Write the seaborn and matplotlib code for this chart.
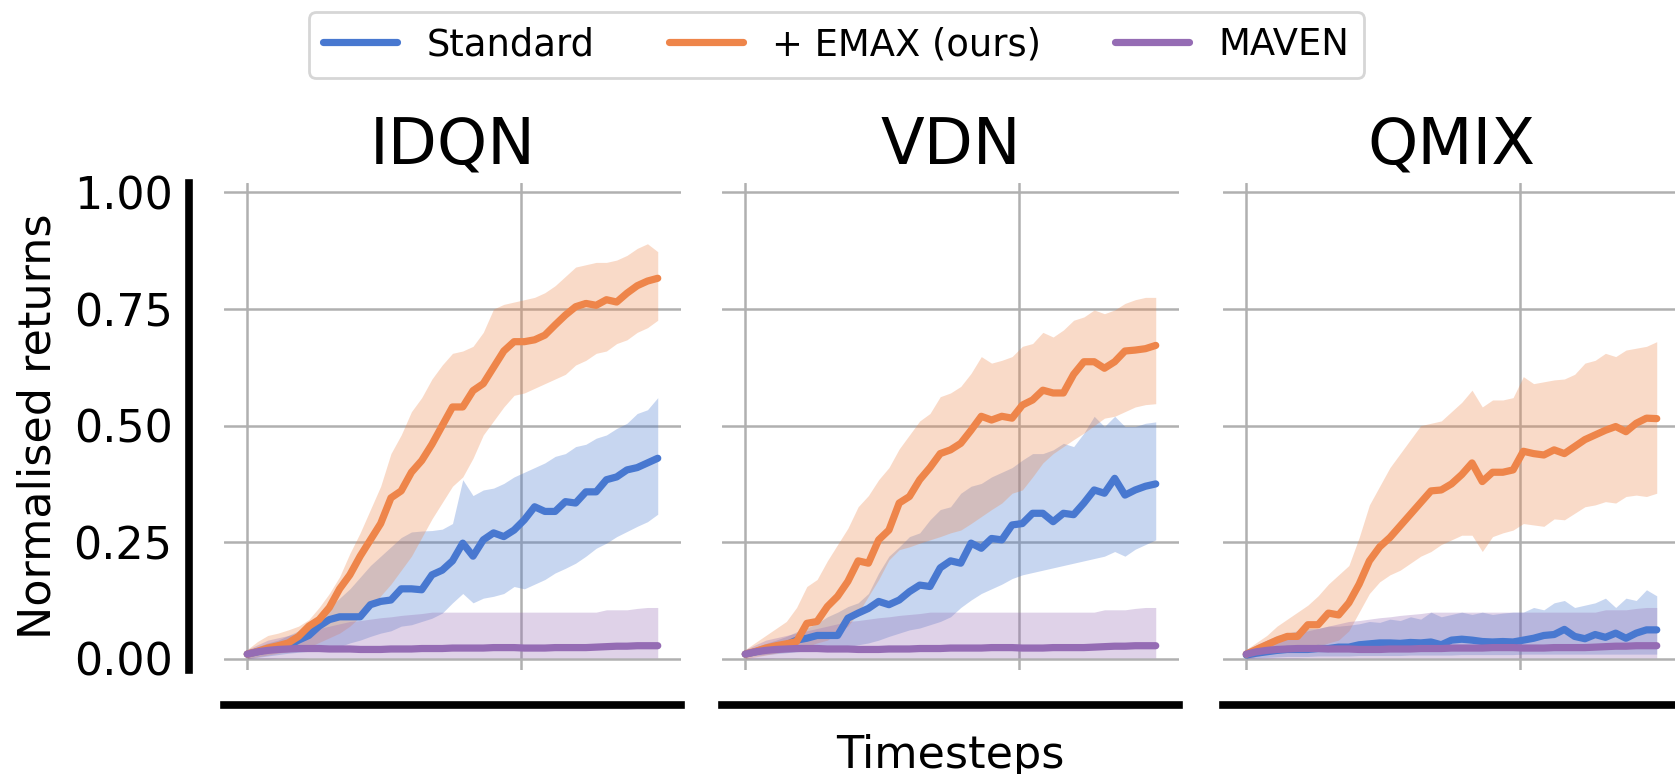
import numpy as np
import pandas as pd
import matplotlib
matplotlib.use("Agg")
import matplotlib.pyplot as plt
from matplotlib.lines import Line2D
import seaborn as sns

sns.set_theme(style="whitegrid", palette="muted")
plt.rcParams['font.family'] = ['DejaVu Sans']
plt.rcParams.update({"text.color": "black", "axes.labelcolor": "black",
                     "xtick.color": "black", "ytick.color": "black"})

panels = ["IDQN", "VDN", "QMIX"]
methods = ["Standard", "+ EMAX (ours)", "MAVEN"]
timesteps = np.arange(41) * 75000

# ---- IDQN ----
idqn_std_mean = [0.01, 0.015, 0.02, 0.025, 0.028, 0.04, 0.05, 0.07, 0.084, 0.09, 0.09, 0.09, 0.116, 0.123, 0.126, 0.15,
                 0.15, 0.148, 0.18, 0.19, 0.21, 0.248, 0.22, 0.255, 0.27, 0.262, 0.276, 0.298, 0.326, 0.316, 0.316,
                 0.337, 0.334, 0.358, 0.358, 0.384, 0.39, 0.405, 0.41, 0.42, 0.43]
idqn_std_lo = [0.0, 0.003, 0.006, 0.009, 0.012, 0.014, 0.016, 0.02, 0.023, 0.026, 0.034, 0.04, 0.048, 0.055, 0.06, 0.07,
               0.073, 0.08, 0.087, 0.098, 0.12, 0.14, 0.12, 0.13, 0.134, 0.14, 0.155, 0.15, 0.16, 0.17, 0.184, 0.194,
               0.205, 0.22, 0.237, 0.248, 0.262, 0.273, 0.284, 0.294, 0.31]
idqn_std_hi = [0.016, 0.026, 0.034, 0.04, 0.05, 0.06, 0.075, 0.09, 0.11, 0.13, 0.15, 0.175, 0.2, 0.22, 0.24, 0.26,
               0.272, 0.274, 0.275, 0.278, 0.29, 0.384, 0.35, 0.362, 0.366, 0.376, 0.39, 0.4, 0.41, 0.42, 0.434, 0.44,
               0.455, 0.46, 0.473, 0.48, 0.494, 0.505, 0.526, 0.534, 0.56]
idqn_emax_mean = [0.01, 0.016, 0.023, 0.028, 0.034, 0.048, 0.07, 0.084, 0.11, 0.15, 0.18, 0.22, 0.255, 0.29, 0.345, 0.36,
                  0.4, 0.425, 0.46, 0.5, 0.54, 0.54, 0.575, 0.59, 0.625, 0.66, 0.68, 0.68, 0.684, 0.694, 0.716, 0.737,
                  0.755, 0.762, 0.758, 0.77, 0.765, 0.784, 0.8, 0.81, 0.816]
idqn_emax_lo = [0.0, 0.004, 0.008, 0.012, 0.015, 0.02, 0.025, 0.035, 0.045, 0.055, 0.07, 0.09, 0.11, 0.135, 0.16, 0.19,
                0.22, 0.26, 0.3, 0.335, 0.37, 0.39, 0.43, 0.48, 0.51, 0.54, 0.565, 0.57, 0.58, 0.59, 0.6, 0.61, 0.63,
                0.64, 0.655, 0.66, 0.676, 0.684, 0.7, 0.71, 0.726]
idqn_emax_hi = [0.02, 0.037, 0.05, 0.055, 0.062, 0.07, 0.084, 0.11, 0.14, 0.176, 0.226, 0.27, 0.32, 0.37, 0.44, 0.48,
                0.53, 0.56, 0.6, 0.63, 0.655, 0.66, 0.67, 0.7, 0.75, 0.76, 0.765, 0.77, 0.775, 0.785, 0.8, 0.82, 0.84,
                0.845, 0.85, 0.85, 0.855, 0.865, 0.88, 0.89, 0.873]

# ---- VDN ----
vdn_std_mean = [0.01, 0.015, 0.02, 0.025, 0.03, 0.04, 0.044, 0.05, 0.05, 0.05, 0.087, 0.098, 0.108, 0.123, 0.116, 0.126,
                0.144, 0.158, 0.155, 0.195, 0.21, 0.205, 0.248, 0.237, 0.258, 0.255, 0.287, 0.29, 0.312, 0.312, 0.294,
                0.312, 0.309, 0.334, 0.362, 0.355, 0.387, 0.351, 0.362, 0.37, 0.375]
vdn_std_lo = [0.005, 0.007, 0.009, 0.011, 0.013, 0.015, 0.017, 0.019, 0.021, 0.023, 0.026, 0.03, 0.034, 0.04, 0.048,
              0.055, 0.062, 0.066, 0.073, 0.08, 0.09, 0.11, 0.126, 0.14, 0.15, 0.16, 0.172, 0.18, 0.185, 0.19, 0.195,
              0.2, 0.205, 0.21, 0.215, 0.22, 0.23, 0.22, 0.235, 0.245, 0.255]
vdn_std_hi = [0.015, 0.025, 0.033, 0.04, 0.048, 0.058, 0.066, 0.076, 0.09, 0.1, 0.112, 0.12, 0.14, 0.184, 0.22, 0.24,
              0.262, 0.27, 0.298, 0.32, 0.326, 0.355, 0.37, 0.376, 0.39, 0.4, 0.41, 0.426, 0.44, 0.44, 0.448, 0.462,
              0.455, 0.484, 0.52, 0.498, 0.52, 0.498, 0.498, 0.505, 0.508]
vdn_emax_mean = [0.01, 0.016, 0.023, 0.028, 0.032, 0.037, 0.076, 0.08, 0.112, 0.134, 0.166, 0.21, 0.205, 0.255, 0.276,
                 0.334, 0.348, 0.384, 0.41, 0.44, 0.448, 0.462, 0.49, 0.52, 0.512, 0.52, 0.516, 0.544, 0.555, 0.576,
                 0.57, 0.57, 0.61, 0.637, 0.637, 0.623, 0.637, 0.66, 0.662, 0.665, 0.672]
vdn_emax_lo = [0.0, 0.004, 0.008, 0.012, 0.016, 0.023, 0.026, 0.034, 0.04, 0.055, 0.07, 0.098, 0.134, 0.17, 0.212,
               0.234, 0.24, 0.248, 0.255, 0.262, 0.27, 0.276, 0.29, 0.305, 0.32, 0.334, 0.355, 0.362, 0.39, 0.42, 0.44,
               0.455, 0.47, 0.484, 0.5, 0.516, 0.52, 0.53, 0.54, 0.545, 0.547]
vdn_emax_hi = [0.02, 0.035, 0.05, 0.065, 0.08, 0.11, 0.155, 0.17, 0.21, 0.245, 0.28, 0.326, 0.35, 0.384, 0.41, 0.45,
               0.48, 0.51, 0.526, 0.562, 0.57, 0.584, 0.612, 0.648, 0.634, 0.64, 0.648, 0.67, 0.676, 0.7, 0.69, 0.705,
               0.726, 0.733, 0.748, 0.74, 0.748, 0.762, 0.77, 0.775, 0.775]

# ---- QMIX ----
qmix_std_mean = [0.008, 0.012, 0.015, 0.018, 0.02, 0.02, 0.02, 0.022, 0.022, 0.025, 0.025, 0.03, 0.032, 0.034, 0.034,
                 0.033, 0.035, 0.034, 0.036, 0.03, 0.04, 0.042, 0.04, 0.037, 0.036, 0.037, 0.036, 0.04, 0.044, 0.05,
                 0.052, 0.063, 0.048, 0.043, 0.052, 0.046, 0.055, 0.044, 0.055, 0.062, 0.062]
qmix_std_lo = [0.0, 0.002, 0.003, 0.004, 0.005, 0.005, 0.005, 0.006, 0.006, 0.006, 0.006, 0.007, 0.007, 0.007, 0.007,
               0.007, 0.008, 0.008, 0.008, 0.008, 0.008, 0.009, 0.009, 0.009, 0.009, 0.009, 0.009, 0.01, 0.01, 0.01,
               0.01, 0.01, 0.01, 0.01, 0.01, 0.01, 0.01, 0.01, 0.01, 0.01, 0.01]
qmix_std_hi = [0.015, 0.03, 0.04, 0.05, 0.055, 0.06, 0.065, 0.065, 0.07, 0.07, 0.072, 0.075, 0.08, 0.078, 0.085, 0.082,
               0.09, 0.085, 0.1, 0.09, 0.095, 0.1, 0.095, 0.1, 0.095, 0.098, 0.1, 0.1, 0.11, 0.105, 0.12, 0.125, 0.11,
               0.115, 0.12, 0.13, 0.11, 0.13, 0.125, 0.148, 0.135]
qmix_emax_mean = [0.01, 0.02, 0.03, 0.04, 0.048, 0.048, 0.073, 0.073, 0.098, 0.094, 0.12, 0.16, 0.21, 0.24, 0.26, 0.285,
                  0.31, 0.335, 0.36, 0.362, 0.375, 0.395, 0.42, 0.38, 0.4, 0.4, 0.405, 0.445, 0.44, 0.437, 0.448, 0.44,
                  0.455, 0.47, 0.48, 0.49, 0.498, 0.487, 0.505, 0.516, 0.515]
qmix_emax_lo = [0.0, 0.005, 0.01, 0.012, 0.015, 0.018, 0.02, 0.026, 0.034, 0.04, 0.06, 0.1, 0.14, 0.165, 0.18, 0.19,
                0.205, 0.22, 0.23, 0.245, 0.255, 0.265, 0.265, 0.23, 0.262, 0.27, 0.276, 0.29, 0.287, 0.284, 0.3,
                0.298, 0.312, 0.326, 0.33, 0.337, 0.334, 0.348, 0.351, 0.348, 0.355]
qmix_emax_hi = [0.02, 0.035, 0.05, 0.07, 0.085, 0.1, 0.115, 0.135, 0.16, 0.18, 0.2, 0.26, 0.33, 0.37, 0.41, 0.44, 0.47,
                0.5, 0.505, 0.51, 0.53, 0.55, 0.576, 0.54, 0.555, 0.555, 0.56, 0.605, 0.59, 0.594, 0.598, 0.6, 0.61,
                0.634, 0.64, 0.655, 0.648, 0.662, 0.666, 0.67, 0.68]

# ---- MAVEN (same baseline shape in all three panels) ----
maven_mean = [0.01, 0.015, 0.018, 0.02, 0.021, 0.022, 0.022, 0.022, 0.021, 0.021, 0.021, 0.02, 0.02, 0.02, 0.021,
              0.021, 0.021, 0.022, 0.022, 0.022, 0.023, 0.023, 0.023, 0.023, 0.024, 0.024, 0.024, 0.023, 0.023, 0.023,
              0.024, 0.024, 0.024, 0.024, 0.025, 0.026, 0.027, 0.027, 0.028, 0.028, 0.028]
maven_lo = [0.0, 0.0, 0.0, 0.001, 0.001, 0.001, 0.002, 0.002, 0.002, 0.002, 0.002, 0.002, 0.002, 0.002, 0.002, 0.002,
            0.002, 0.002, 0.002, 0.002, 0.002, 0.002, 0.002, 0.002, 0.002, 0.002, 0.002, 0.002, 0.002, 0.002, 0.002,
            0.002, 0.002, 0.002, 0.002, 0.002, 0.002, 0.002, 0.002, 0.002, 0.002]
maven_hi = [0.02, 0.03, 0.04, 0.045, 0.05, 0.055, 0.06, 0.065, 0.07, 0.075, 0.08, 0.082, 0.085, 0.088, 0.09, 0.093,
            0.095, 0.097, 0.1, 0.1, 0.1, 0.1, 0.1, 0.1, 0.1, 0.1, 0.1, 0.1, 0.1, 0.1, 0.1, 0.1, 0.1, 0.1, 0.1, 0.105,
            0.105, 0.105, 0.108, 0.11, 0.11]

series = {
    "IDQN": {"Standard": (idqn_std_mean, idqn_std_lo, idqn_std_hi),
             "+ EMAX (ours)": (idqn_emax_mean, idqn_emax_lo, idqn_emax_hi),
             "MAVEN": (maven_mean, maven_lo, maven_hi)},
    "VDN": {"Standard": (vdn_std_mean, vdn_std_lo, vdn_std_hi),
            "+ EMAX (ours)": (vdn_emax_mean, vdn_emax_lo, vdn_emax_hi),
            "MAVEN": (maven_mean, maven_lo, maven_hi)},
    "QMIX": {"Standard": (qmix_std_mean, qmix_std_lo, qmix_std_hi),
             "+ EMAX (ours)": (qmix_emax_mean, qmix_emax_lo, qmix_emax_hi),
             "MAVEN": (maven_mean, maven_lo, maven_hi)},
}

rows = []
for p in panels:
    for m in methods:
        mean, lo, hi = series[p][m]
        for t, a, b, c in zip(timesteps, mean, lo, hi):
            rows.append((p, m, t, a, b, c))
df = pd.DataFrame(rows, columns=["panel", "method", "timestep", "mean", "lo", "hi"])

pal = sns.color_palette("muted")
colors = {"Standard": pal[0], "+ EMAX (ours)": pal[1], "MAVEN": pal[4]}

fig = plt.figure(figsize=(16.75, 7.74), dpi=100)
lefts = [224, 722, 1223]

for k, p in enumerate(panels):
    ax = fig.add_axes([lefts[k] / 1675, 0.1344, 457 / 1675, 0.629])
    sub = df[df.panel == p]
    for m in methods:
        d = sub[sub.method == m]
        ax.fill_between(d.timestep, d.lo, d.hi, color=colors[m], alpha=0.3, lw=0)
    sns.lineplot(data=sub, x="timestep", y="mean", hue="method", hue_order=methods,
                 palette=colors, lw=5.2, legend=False, errorbar=None, ax=ax)

    ax.set_xlim(-0.17e6, 3.17e6)
    ax.set_ylim(-0.024, 1.02)
    ax.set_xticks([0, 2e6])
    ax.set_yticks([0, 0.25, 0.5, 0.75, 1.0])
    ax.set_yticklabels(["0.00", "0.25", "0.50", "0.75", "1.00"])
    ax.grid(True, color="#b0b0b0", lw=1.8)
    ax.tick_params(axis="both", length=0, labelsize=32)
    ax.tick_params(axis="y", pad=12)
    ax.tick_params(axis="x", labelbottom=False)
    ax.set_title(p, fontsize=46, pad=14)

    sns.despine(ax=ax, offset=25, left=(k > 0))
    for s in ["left", "bottom"]:
        ax.spines[s].set_color("black")
        ax.spines[s].set_linewidth(5.5)

    if k == 0:
        ax.set_ylabel("Normalised returns", fontsize=32, labelpad=10)
    else:
        ax.set_ylabel("")
        ax.tick_params(axis="y", labelleft=False)
    ax.set_xlabel("Timesteps" if k == 1 else "", fontsize=32, labelpad=21)

handles = [Line2D([], [], color=colors[m], lw=5.2) for m in methods]
leg = fig.legend(handles, methods, loc="center", bbox_to_anchor=(0.4993, 0.942), ncol=3,
                 fontsize=26.6, frameon=True, fancybox=True, edgecolor="#cccccc",
                 columnspacing=2.0, handlelength=2.0)
leg.get_frame().set_linewidth(2)

fig.savefig("out.png", dpi=100)
